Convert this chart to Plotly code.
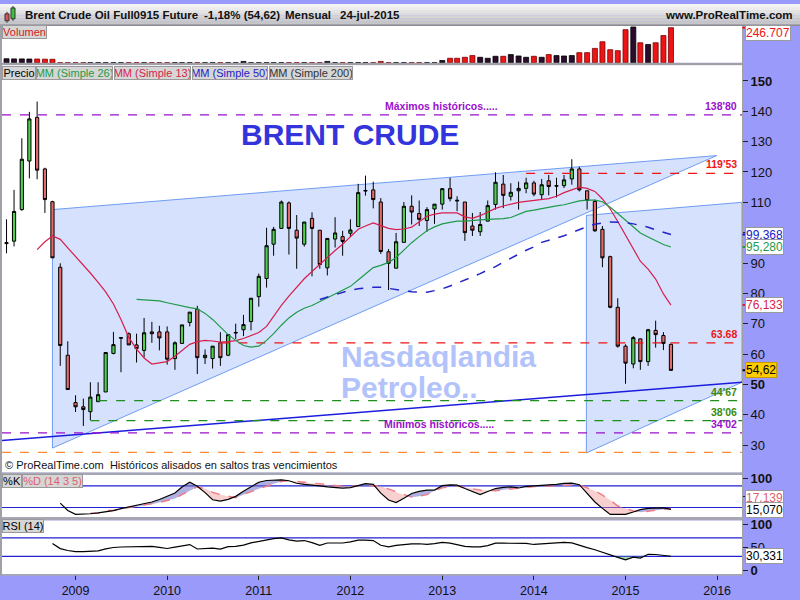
import pandas as pd
import plotly.graph_objects as go

W, H = 800, 600
FONT = "Arial, Liberation Sans, sans-serif"


def px(x):
    return x / W


def py(y):
    return 1 - y / H


# ---------------- monthly data (Apr 2008 .. Jul 2015) ----------------
months = pd.date_range("2008-04-01", periods=88, freq="MS")
x_start, x_end = "2008-03-14", "2016-04-09"
year_ticks = [f"{y}-01-01" for y in range(2009, 2017)]
year_labels = [str(y) for y in range(2009, 2017)]

opens = [
    96.4, 97.2, 107.6, 123.6, 138.0, 121.0, 110.2, 88.6, 59.6,
    44.0, 42.6, 41.0, 44.3, 47.5, 60.2, 65.2, 66.7, 63.0, 61.2, 67.3, 67.3,
    67.3, 58.5, 63.5, 70.4, 74.8, 58.8, 58.5, 63.7, 59.6, 66.9, 68.0, 70.7,
    78.9, 84.9, 96.2, 101.4, 109.8, 100.8, 96.2, 104.7, 100.8, 88.4, 97.9, 98.7,
    99.8, 102.0, 113.7, 114.1, 110.1, 93.7, 88.3, 96.8, 108.7, 106.3, 104.0, 107.8,
    109.4, 114.5, 110.7, 110.1, 102.2, 100.3, 103.8, 109.3, 116.0, 112.0, 113.8, 114.6,
    116.4, 112.5, 117.1, 115.3, 115.5, 117.7, 121.0, 113.8, 110.3, 101.1, 92.1, 75.4,
    62.6, 56.7, 65.0, 57.5, 67.8, 66.1, 63.2,
]
highs = [
    104.4, 114.1, 131.1, 139.8, 143.2, 121.4, 110.5, 89.9, 64.2,
    46.4, 45.3, 50.7, 50.7, 60.5, 67.3, 65.6, 67.1, 66.7, 71.9, 70.6, 69.3,
    69.1, 64.2, 69.6, 73.8, 75.9, 61.5, 62.6, 67.2, 66.6, 70.0, 72.9, 78.4,
    86.5, 101.6, 101.9, 110.6, 110.3, 105.8, 103.5, 106.7, 100.8, 98.1, 105.1, 100.6,
    104.4, 116.1, 118.8, 116.8, 111.4, 94.6, 99.9, 110.1, 112.3, 110.6, 108.4, 109.4,
    114.7, 118.1, 112.0, 110.1, 106.5, 106.8, 110.6, 119.9, 119.0, 116.3, 116.8, 118.1,
    117.1, 117.7, 119.0, 118.1, 119.0, 124.2, 121.7, 113.8, 110.9, 102.2, 92.4, 78.4,
    63.2, 65.9, 65.0, 68.3, 71.0, 67.2, 63.4,
]
lows = [
    93.2, 95.5, 107.2, 117.9, 117.6, 106.5, 91.7, 56.1, 48.2,
    40.9, 36.3, 38.2, 44.3, 47.5, 59.9, 54.0, 63.0, 57.2, 58.8, 63.7, 61.2,
    56.5, 54.8, 63.3, 69.1, 53.4, 56.7, 55.2, 56.1, 59.3, 65.0, 65.9, 67.8,
    75.6, 81.9, 92.4, 101.4, 92.8, 88.1, 95.4, 85.6, 88.1, 85.9, 95.1, 92.4,
    98.6, 102.0, 112.2, 108.0, 93.0, 81.1, 88.3, 96.8, 102.7, 102.2, 100.3, 102.9,
    107.6, 110.3, 107.1, 97.3, 98.9, 98.9, 103.8, 107.6, 108.1, 110.6, 107.6, 113.0,
    112.0, 110.9, 112.3, 111.6, 114.7, 115.8, 113.6, 107.6, 100.3, 88.6, 75.1, 62.1,
    50.2, 55.3, 54.8, 56.1, 62.1, 61.3, 54.4,
]
closes = [
    96.7, 107.0, 124.2, 137.5, 120.6, 110.9, 91.7, 62.8, 48.3,
    42.6, 41.7, 45.8, 46.6, 60.5, 63.1, 65.4, 63.0, 61.8, 67.0, 66.7, 65.3,
    58.3, 63.7, 69.6, 73.8, 58.8, 59.6, 62.6, 58.8, 66.4, 67.1, 69.7, 78.4,
    85.6, 95.7, 101.1, 110.1, 101.4, 98.2, 103.5, 101.4, 89.5, 98.1, 99.9, 97.1,
    100.9, 113.2, 113.9, 110.9, 93.8, 89.9, 97.0, 108.7, 106.8, 104.4, 107.6, 109.4,
    114.5, 111.2, 110.5, 100.0, 100.8, 102.7, 108.9, 116.6, 112.3, 113.3, 114.6, 116.4,
    112.7, 115.8, 115.2, 115.5, 117.4, 121.0, 114.1, 110.6, 100.6, 91.7, 75.4, 62.6,
    57.0, 65.4, 57.5, 68.0, 66.4, 63.5, 54.62,
]
volumes = [
    28000, 27000, 27000, 26000, 26000, 25000, 24000, 0, 0,
    0, 0, 0, 0, 0, 0, 0, 0, 0, 0, 0, 0,
    0, 0, 0, 0, 0, 0, 0, 0, 0, 0, 9000, 0,
    0, 0, 0, 0, 0, 0, 0, 0, 0, 9000, 0, 0,
    0, 0, 0, 0, 9000, 0, 0, 0, 0, 0, 0, 0,
    15300, 31300, 31300, 38200, 50000, 38200, 31300, 45200, 45200, 57000, 47300, 38200,
    45200, 38200, 57000, 50000, 47300, 50000, 70900, 70900, 100800, 147300, 91700, 84800,
    232800, 251600, 140400, 128600, 140400, 191100, 246707,
]

# moving averages and oscillators (values as plotted, starting where each one begins)
ma13_values = [
    94.4, 97.0, 98.9, 97.8, 95.0, 92.2, 89.5, 86.7, 83.6, 80.5, 76.5, 71.4,
    65.5, 61.6, 58.7, 56.7, 57.1, 57.5, 59.3, 61.1, 63.2, 64.1, 64.5, 64.3,
    63.9, 64.1, 64.4, 65.1, 66.0, 67.1, 69.1, 72.5, 76.0, 79.1, 82.1, 84.8,
    87.2, 89.6, 91.8, 94.1, 96.2, 98.6, 101.1, 102.2, 103.2, 102.3, 101.4, 101.0,
    101.2, 101.8, 103.7, 105.4, 106.1, 106.5, 106.5, 106.5, 105.2, 104.7, 105.6, 106.7,
    108.0, 108.8, 109.5, 110.0, 110.3, 110.6, 110.9, 111.2, 112.0, 113.2, 114.1, 115.0,
    114.6, 113.6, 111.1, 107.8, 103.7, 99.1, 94.7, 90.6, 88.0, 84.7, 79.8, 76.133,
]
ma26_values = [
    78.0, 77.9, 77.6, 77.5, 76.9, 76.3, 75.7, 75.3, 74.9, 73.4, 71.4, 68.9,
    66.4, 64.5, 62.8, 62.3, 62.6, 64.5, 66.7, 69.5, 71.9, 73.8, 75.1, 76.0,
    77.3, 78.5, 79.7, 81.0, 82.3, 84.4, 86.5, 88.5, 89.2, 90.2, 91.8, 94.3,
    96.7, 98.7, 100.6, 101.9, 102.9, 103.4, 103.8, 103.8, 103.9, 104.2, 104.4, 104.4,
    104.6, 105.0, 105.9, 107.0, 107.4, 107.8, 108.4, 108.8, 109.2, 109.8, 110.5, 110.7,
    110.7, 110.2, 108.4, 106.3, 104.1, 102.0, 99.9, 98.6, 97.4, 96.1, 95.28,
]
ma50_values = [
    78.0, 78.8, 79.6, 80.4, 81.1, 81.5, 81.8, 82.0, 82.0, 81.7, 81.4, 80.9,
    80.5, 80.5, 80.4, 80.9, 81.5, 82.4, 83.3, 84.3, 85.3, 86.5, 87.7, 88.8,
    90.3, 91.7, 92.9, 94.2, 95.3, 96.8, 97.5, 98.1, 99.0, 100.0, 101.1, 102.0,
    102.8, 103.2, 103.5, 103.4, 103.3, 102.9, 102.4, 101.8, 100.9, 100.0, 99.368,
]
stoch_k_values = [
    32.0, 11.8, 1.2, 1.7, 2.8, 5.3, 7.7, 11.6, 17.0, 21.6,
    24.4, 28.7, 35.3, 42.1, 50.3, 60.1, 76.5, 89.8, 78.6, 61.2,
    41.5, 37.7, 42.4, 50.8, 65.0, 77.8, 89.8, 94.7, 96.4, 96.4,
    93.9, 87.1, 83.8, 82.7, 80.0, 77.0, 74.8, 73.7, 74.8, 80.8,
    86.0, 84.1, 59.8, 40.7, 33.6, 45.6, 58.7, 64.5, 68.0, 68.0,
    80.3, 82.7, 81.9, 72.6, 63.9, 56.0, 64.2, 72.4, 75.4, 77.0,
    74.0, 78.4, 80.0, 81.1, 82.2, 84.1, 86.8, 87.6, 83.0, 59.5,
    35.3, 17.6, 0.9, 0.9, 0.9, 7.5, 14.0, 17.8, 18.9, 18.9,
    15.07,
]
stoch_d_values = [
    4.5, 4.5, 11.3, 12.1, 15.9, 19.2, 22.5, 25.7, 29.3, 33.9,
    39.4, 45.1, 55.7, 66.4, 76.7, 72.4, 61.7, 55.7, 50.3, 47.0,
    56.3, 63.9, 72.1, 79.7, 85.5, 91.7, 94.5, 92.0, 89.5, 87.1,
    84.9, 82.5, 80.8, 78.9, 78.6, 79.2, 80.0, 80.0, 78.9, 71.0,
    63.1, 54.6, 48.6, 51.4, 55.7, 66.1, 74.3, 77.3, 79.7, 75.6,
    71.5, 68.0, 67.5, 66.4, 68.8, 71.5, 74.0, 76.2, 78.1, 78.6,
    79.5, 80.0, 80.8, 81.9, 82.7, 74.5, 65.8, 54.4, 40.5, 24.1,
    17.3, 10.5, 7.2, 8.8, 12.4, 14.8, 17.139,
]
rsi_values = [
    57.8, 46.9, 42.8, 40.2, 40.2, 40.6, 42.0, 46.2, 49.3, 50.3,
    50.9, 50.5, 51.5, 51.7, 49.7, 47.1, 50.1, 53.1, 55.6, 46.0,
    47.7, 48.1, 45.8, 51.1, 51.9, 54.4, 59.2, 62.7, 65.9, 68.6,
    70.2, 65.7, 62.9, 64.3, 59.8, 53.8, 59.0, 59.0, 59.0, 61.3,
    65.1, 65.3, 64.3, 54.2, 50.7, 53.8, 56.2, 57.2, 57.4, 56.2,
    57.6, 60.3, 58.6, 55.6, 51.7, 50.7, 50.5, 53.3, 58.8, 58.6,
    58.2, 58.6, 58.0, 55.8, 56.8, 58.0, 59.0, 60.3, 59.2, 53.8,
    49.1, 44.4, 38.9, 31.8, 27.8, 22.7, 28.6, 26.5, 34.5, 34.1,
    32.4, 30.331,
]


def pad(values):
    return [None] * (len(months) - len(values)) + list(values)


ma13, ma26, ma50 = pad(ma13_values), pad(ma26_values), pad(ma50_values)
stoch_k, stoch_d, rsi = pad(stoch_k_values), pad(stoch_d_values), pad(rsi_values)

# drawn objects on the price panel (date, price)
wedge_x = ["2008-10-01", "2008-10-01", "2015-12-30"]
wedge_y = [107.6, 29.0, 125.4]
channel_x = ["2014-07-29", "2014-07-29", x_end, x_end]
channel_y = [105.7, 27.4, 50.7, 110.0]
support_x = [x_start, x_end]
support_y = [31.5, 50.7]

# horizontal levels: (value, start date, colour, label)
levels = [
    (138.80, x_start, "#9a10cc", "138'80"),
    (119.53, "2013-12-01", "#ee1515", "119'53"),
    (63.68, "2010-08-01", "#ee1515", "63.68"),
    (44.67, "2009-04-01", "#1d8f1d", "44'67"),
    (38.06, "2009-03-01", "#1d8f1d", "38'06"),
    (34.02, x_start, "#9a10cc", "34'02"),
    (27.60, x_start, "#ff8a3a", None),
]

# ---------------- helpers ----------------
xn = [t.value / 1e6 for t in months]


def runs_between(a, b):
    out = []
    sign, ap, bp, prev = 0, [], [], None
    for i, x in enumerate(xn):
        if a[i] is None or b[i] is None:
            if ap:
                out.append((sign, ap, bp))
            sign, ap, bp, prev = 0, [], [], None
            continue
        d = a[i] - b[i]
        s = (d > 0) - (d < 0)
        if prev is not None and s != 0 and sign != 0 and s != sign:
            j = prev
            dp = a[j] - b[j]
            t = dp / (dp - d)
            xc = xn[j] + t * (x - xn[j])
            yc = a[j] + t * (a[i] - a[j])
            ap.append((xc, yc))
            bp.append((xc, yc))
            out.append((sign, ap, bp))
            ap, bp = [(xc, yc)], [(xc, yc)]
            sign = s
        if sign == 0:
            sign = s
        ap.append((x, a[i]))
        bp.append((x, b[i]))
        prev = i
    if ap:
        out.append((sign, ap, bp))
    return out


def band_trace(runs, want, color, xa, ya):
    xs, ys = [], []
    for s, ap, bp in runs:
        if s != want:
            continue
        pts = ap + bp[::-1] + [ap[0]]
        xs += [pd.to_datetime(p[0], unit="ms") for p in pts] + [None]
        ys += [p[1] for p in pts] + [None]
    return go.Scatter(x=xs, y=ys, mode="lines", fill="toself", fillcolor=color,
                      line=dict(width=0), hoverinfo="skip", xaxis=xa, yaxis=ya)


def polygon_path(xs, ys):
    pts = [f"{x},{y}" for x, y in zip(xs, ys)]
    return "M" + "L".join(pts) + "Z"


fig = go.Figure()

# ---------------- price panel ----------------
fig.add_trace(go.Candlestick(
    x=months, open=opens, high=highs, low=lows, close=closes,
    increasing=dict(line=dict(color="black", width=1), fillcolor="#4fd04f"),
    decreasing=dict(line=dict(color="black", width=1), fillcolor="#e36b6b"),
    whiskerwidth=0, xaxis="x", yaxis="y"))

fig.add_trace(go.Scatter(x=support_x, y=support_y, mode="lines",
                         line=dict(color="#1c1ce0", width=1.5)))
for val, start, col, _ in levels:
    fig.add_trace(go.Scatter(x=[start, x_end], y=[val, val], mode="lines",
                             line=dict(color=col, width=1.3, dash="dash")))

fig.add_trace(go.Scatter(x=months, y=ma13, mode="lines", line=dict(color="#d81f4c", width=1.2)))
fig.add_trace(go.Scatter(x=months, y=ma26, mode="lines", line=dict(color="#1f9a48", width=1.2)))
fig.add_trace(go.Scatter(x=months, y=ma50, mode="lines",
                         line=dict(color="#2323c8", width=1.5, dash="dash")))

# ---------------- volume panel ----------------
up = [c >= o for o, c in zip(opens, closes)]
fig.add_trace(go.Bar(
    x=months, y=volumes, width=[20 * 86400000] * len(months),
    marker=dict(color=["#2c0c2c" if u else "#ec1414" for u in up],
                line=dict(color=["#000000" if u else "#7a0000" for u in up], width=0.8)),
    xaxis="x2", yaxis="y2"))

# ---------------- stochastic panel ----------------
kd_runs = runs_between(stoch_k, stoch_d)
fig.add_trace(band_trace(kd_runs, 1, "rgba(110,110,200,0.55)", "x3", "y3"))
fig.add_trace(band_trace(kd_runs, -1, "rgba(240,150,150,0.45)", "x3", "y3"))
fig.add_trace(go.Scatter(x=months, y=stoch_d, mode="lines",
                         line=dict(color="#f07a84", width=1.4, dash="dash"),
                         xaxis="x3", yaxis="y3"))
fig.add_trace(go.Scatter(x=months, y=stoch_k, mode="lines",
                         line=dict(color="black", width=1.2), xaxis="x3", yaxis="y3"))

# ---------------- RSI panel ----------------
rsi_runs = runs_between(rsi, [30] * len(months))
fig.add_trace(band_trace(rsi_runs, -1, "rgba(110,190,130,0.6)", "x4", "y4"))
fig.add_trace(go.Scatter(x=months, y=rsi, mode="lines",
                         line=dict(color="black", width=1.2), xaxis="x4", yaxis="y4"))

# ---------------- shapes ----------------
shapes = []
# shaded wedge and channel behind the candles
for xs, ys in [(wedge_x, wedge_y), (channel_x, channel_y)]:
    shapes.append(dict(type="path", xref="x", yref="y", path=polygon_path(xs, ys),
                       fillcolor="#d5e1fd", line=dict(color="#6f9cf3", width=1), layer="below"))
# header gradient
grad = ["#f4f4f4", "#ececec", "#e4e4e4", "#dcdcdc", "#d4d4d4", "#cccccc", "#c6c6c6"]
for i, c in enumerate(grad):
    shapes.append(dict(type="rect", xref="paper", yref="paper", x0=0, x1=1,
                       y0=py(3 * (i + 1)), y1=py(3 * i), fillcolor=c, line=dict(width=0),
                       layer="above"))
shapes.append(dict(type="line", xref="paper", yref="paper", x0=0, x1=1, y0=py(21.5), y1=py(21.5),
                   line=dict(color="#8c8c8c", width=1.5), layer="above"))
# header candle icon
shapes += [
    dict(type="line", xref="paper", yref="paper", x0=px(7), x1=px(7), y0=py(19), y1=py(8),
         line=dict(color="#333", width=1), layer="above"),
    dict(type="rect", xref="paper", yref="paper", x0=px(5), x1=px(9), y0=py(17), y1=py(10),
         fillcolor="#e05050", line=dict(color="#333", width=1), layer="above"),
    dict(type="line", xref="paper", yref="paper", x0=px(13), x1=px(13), y0=py(17), y1=py(2),
         line=dict(color="#333", width=1), layer="above"),
    dict(type="rect", xref="paper", yref="paper", x0=px(11), x1=px(15), y0=py(15), y1=py(4),
         fillcolor="#40c040", line=dict(color="#333", width=1), layer="above"),
]
# separators and frame
for y0, y1 in [(474.8, 477.3), (520, 523.3), (577.7, 579.5)]:
    shapes.append(dict(type="rect", xref="paper", yref="paper", x0=0, x1=px(742.5),
                       y0=py(y1), y1=py(y0), fillcolor="#a6a6b4", line=dict(width=0),
                       layer="above"))
shapes.append(dict(type="rect", xref="paper", yref="paper", x0=0, x1=px(2), y0=py(579.5),
                   y1=py(21.5), fillcolor="#a0a0a8", line=dict(width=0), layer="above"))
# indicator reference lines
for yref, axis, v in [("y3", "x3", 80), ("y3", "x3", 20), ("y4", "x4", 70), ("y4", "x4", 30)]:
    shapes.append(dict(type="line", xref=f"{axis} domain", x0=0, x1=1, yref=yref, y0=v, y1=v,
                       line=dict(color="#2020d4", width=1.2), layer="below"))
# value markers next to the price scale
for val, col in [(99.368, "#1a1acc"), (95.28, "#1f9a48"), (76.133, "#d81f4c"), (54.62, "#000000")]:
    shapes.append(dict(type="line", xref="paper", x0=px(742.5), x1=px(747), yref="y", y0=val, y1=val,
                       line=dict(color=col, width=2), layer="above"))
shapes.append(dict(type="line", xref="paper", x0=px(742.5), x1=px(747), yref="y2", y0=246707,
                   y1=246707, line=dict(color="#ec1414", width=2), layer="above"))

# ---------------- annotations ----------------
ann = []


def text(x, y, s, size=11, color="black", anchor="left", bold=False, **kw):
    d = dict(xref="paper", yref="paper", x=px(x), y=py(y), text=f"<b>{s}</b>" if bold else s,
             showarrow=False, xanchor=anchor, yanchor="middle",
             font=dict(family=FONT, size=size, color=color))
    d.update(kw)
    ann.append(d)


# header
text(23, 11, "Brent Crude Oil Full0915 Future", 11.5, "#111", bold=True)
text(202, 11, "-1,18% (54,62)", 11.5, "#111", bold=True)
text(283, 11, "Mensual", 11.5, "#111", bold=True)
text(338, 11, "24-jul-2015", 11.5, "#111", bold=True)
text(795, 11, "www.ProRealTime.com", 11.5, "#111", anchor="right", bold=True)


def tag(x, y, s, width, color, bg="#d6d6d6"):
    ann.append(dict(xref="paper", yref="paper", x=px(x), y=py(y), text=s, showarrow=False,
                    xanchor="left", yanchor="middle", width=width, height=12, align="center",
                    bgcolor=bg, bordercolor="#9a9a9a", borderwidth=1, borderpad=0,
                    font=dict(family=FONT, size=11, color=color)))


tag(2, 28, "Volumen", 43, "#d42020")
tag(2, 69.5, "Precio", 32, "black")
tag(36, 69.5, "MM (Simple 26)", 75, "#1f9a48")
tag(114, 69.5, "MM (Simple 13)", 75, "#d81f4c")
tag(192, 69.5, "MM (Simple 50)", 74, "#2323c8")
tag(269, 69.5, "MM (Simple 200)", 82, "#333333")
tag(2, 483.5, "%K", 18, "black")
tag(22, 483.5, "%D (14 3 5)", 59, "#e06070")
tag(2, 529.5, "RSI (14)", 40, "black")

# chart titles
text(350, 132, "BRENT CRUDE", 30, "#3434dc", anchor="center", bold=True)
text(339, 357, "Nasdaqlandia", 30, "#b2c3fb", bold=True)
text(339, 389, "Petroleo..", 30, "#b2c3fb", bold=True)
text(3, 467, "© ProRealTime.com  Históricos alisados en saltos tras vencimientos", 11, "#111")

# level labels
for val, start, col, lab in levels:
    if lab is None:
        continue
    ann.append(dict(xref="paper", yref="y", x=px(739), y=val, text=f"<b>{lab}</b>",
                    showarrow=False, xanchor="right", yanchor="bottom", yshift=1,
                    font=dict(family=FONT, size=10.5, color=col if col != "#1d8f1d" else "#3b8a0a")))
ann.append(dict(xref="paper", yref="y", x=px(441), y=138.80, text="<b>Máximos históricos.....</b>",
                showarrow=False, xanchor="center", yanchor="bottom", yshift=1,
                font=dict(family=FONT, size=10.5, color="#9a10cc")))
ann.append(dict(xref="paper", yref="y", x=px(439), y=34.02, text="<b>Mínimos históricos.....</b>",
                showarrow=False, xanchor="center", yanchor="bottom", yshift=1,
                font=dict(family=FONT, size=10.5, color="#9a10cc")))


def value_box(y, yref, s, color, bg="white", border="#9a9a9a"):
    ann.append(dict(xref="paper", yref=yref, x=px(745), y=y, text=s, showarrow=False,
                    xanchor="left", yanchor="middle", bgcolor=bg, bordercolor=border,
                    borderwidth=1, borderpad=0, font=dict(family=FONT, size=12, color=color)))


value_box(99.368, "y", "99,368", "#1a1acc")
value_box(95.28, "y", "95,280", "#1f9a48")
value_box(76.133, "y", "76,133", "#d81f4c")
value_box(54.62, "y", "54,62", "black", bg="#ffcc00", border="#c89a00")
value_box(py(29.5), "paper", "246.707", "#ec1414")
value_box(py(501), "paper", "17,139", "#e06070")
value_box(py(512.5), "paper", "15,070", "black")
value_box(30.331, "y4", "30,331", "black")

# ---------------- layout ----------------
xdom = [px(2), px(742)]
xcommon = dict(domain=xdom, range=[x_start, x_end], type="date", showgrid=False, zeroline=False,
               showline=True, mirror=True, linecolor="#a0a0a0", linewidth=1)
ycommon = dict(showgrid=False, zeroline=False, showline=True, mirror=True, linecolor="#a0a0a0",
               linewidth=1, side="right", ticks="outside", ticklen=5, tickcolor="#222",
               tickfont=dict(family=FONT, size=13, color="#111"))

price_ticks = list(range(30, 151, 10))
price_text = [f"<b>{v}</b>" if v in (50, 150) else ("" if v == 100 else str(v)) for v in price_ticks]

fig.update_layout(
    width=W, height=H, margin=dict(l=0, r=0, t=0, b=0),
    paper_bgcolor="#9a9afa", plot_bgcolor="white", showlegend=False,
    font=dict(family=FONT), boxgap=0.35,
    xaxis=dict(xcommon, anchor="y", showticklabels=False, ticks="", rangeslider=dict(visible=False)),
    xaxis2=dict(xcommon, anchor="y2", matches="x", showticklabels=False, ticks=""),
    xaxis3=dict(xcommon, anchor="y3", matches="x", showticklabels=False, ticks=""),
    xaxis4=dict(xcommon, anchor="y4", matches="x", tickvals=year_ticks, ticktext=year_labels,
                ticks="outside", ticklen=5, tickcolor="#222",
                tickfont=dict(family=FONT, size=12.5, color="#111")),
    yaxis=dict(ycommon, domain=[py(475), py(62)], range=[20.9, 155.2], anchor="x",
               tickvals=price_ticks, ticktext=price_text),
    yaxis2=dict(ycommon, domain=[py(59.5), py(22)], range=[0, 260600], anchor="x2",
                showticklabels=False, ticks=""),
    yaxis3=dict(ycommon, domain=[py(520), py(477.3)], range=[-6.4, 110], anchor="x3",
                tickvals=[50, 100], ticktext=["50", "<b>100</b>"]),
    yaxis4=dict(ycommon, domain=[py(577.7), py(523.3)], range=[-8, 108], anchor="x4",
                tickvals=[0, 50, 100], ticktext=["<b>0</b>", "50", "<b>100</b>"]),
    shapes=shapes, annotations=ann,
)

fig.write_html("out.html")
